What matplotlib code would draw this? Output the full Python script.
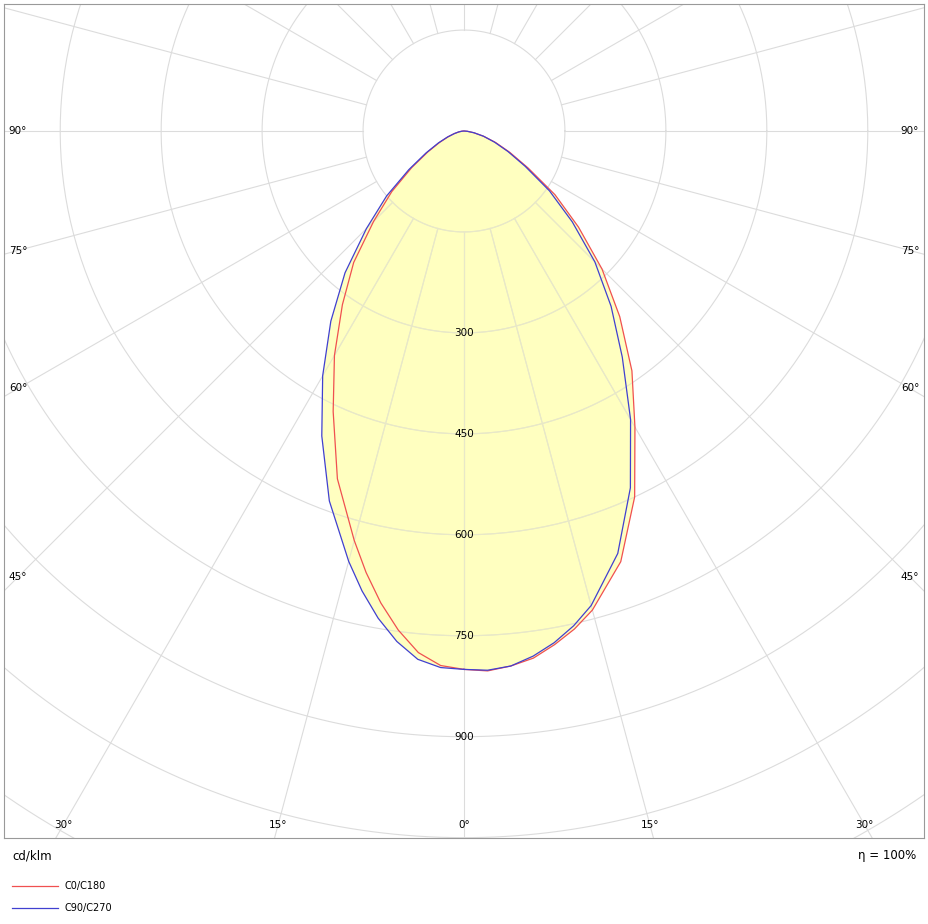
import numpy as np
import matplotlib
matplotlib.use("Agg")
import matplotlib.pyplot as plt

gamma = [0,2.5,5,7.5,10,12.5,15,20,25,30,35,40,45,50,55,60,65,70,75,80,85,90]
c0   = [800,803,798,790,775,758,737,681,600,508,435,360,290,222,165,110,75,50,30,15,5,0]
c180 = [800,795,778,748,712,672,630,550,460,385,315,255,190,140,95,62,40,25,15,8,3,0]
c90  = [800,802,798,787,772,753,730,668,585,495,410,340,275,210,155,105,72,48,30,15,5,0]
c270 = [800,798,788,765,735,700,662,585,500,420,345,275,205,150,100,65,42,26,15,8,3,0]
radial_ticks = [300,450,600,750,900]
angle_labels_bottom = [0,15,30]
angle_labels_side = [45,60,75,90]

s = 0.673  # px per cd
W, H = 929, 924
fig = plt.figure(figsize=(W/100, H/100), dpi=100)
ax = fig.add_axes([4/W, (H-838)/H, 920/W, 834/H])
ax.set_xlim(-460/s, 460/s); ax.set_ylim(-707/s, 127/s)
ax.set_xticks([]); ax.set_yticks([])
for sp in ax.spines.values():
    sp.set_color('#999999')

def xy(g, I, side):
    g = np.radians(np.array(g)); I = np.array(I)
    return side*I*np.sin(g), -I*np.cos(g)

def shape(right, left):
    xr, yr = xy(gamma, right, 1)
    xl, yl = xy(gamma, left, -1)
    return np.concatenate([xr, xl[::-1]]), np.concatenate([yr, yl[::-1]])

xa, ya = shape(c0, c180)
xb, yb = shape(c90, c270)
fill = '#ffffc0'
pa = ax.fill(xa, ya, color=fill, zorder=2, lw=0)[0]
pb = ax.fill(xb, yb, color=fill, zorder=2, lw=0)[0]

t = np.linspace(0, 2*np.pi, 400)
def grid(color, z, clip=None):
    arts = []
    for r in np.arange(150, 2400, 150):
        arts += ax.plot(r*np.cos(t), r*np.sin(t), color=color, lw=0.8, zorder=z)
    for a in range(0, 360, 15):
        th = np.radians(a)
        arts += ax.plot([150*np.sin(th), 3000*np.sin(th)], [-150*np.cos(th), -3000*np.cos(th)],
                        color=color, lw=0.8, zorder=z)
    if clip is not None:
        for l in arts:
            l.set_clip_path(clip)
grid('#dcdcdc', 1)
grid('#e8e8c8', 2.5, pa)
grid('#e8e8c8', 2.5, pb)

ax.plot(xa, ya, color='#f05050', lw=0.9, zorder=3)
ax.plot(xb, yb, color='#4040d0', lw=0.9, zorder=3)

fs = 7.5
for r in radial_ticks:
    ax.text(0, -r, str(r), ha='center', va='center', fontsize=fs, zorder=4)
yb_lab = -694/s
for a in angle_labels_bottom:
    for sgn in ([1] if a == 0 else [-1, 1]):
        ax.text(sgn*(-yb_lab)*np.tan(np.radians(a)), yb_lab, f"{a}°",
                ha='center', va='center', fontsize=fs, zorder=4)
xs = 446/s
for a in angle_labels_side:
    yv = 0 if a == 90 else -xs/np.tan(np.radians(a))
    for sgn in [-1, 1]:
        ax.text(sgn*xs, yv, f"{a}°", ha='center', va='center', fontsize=fs, zorder=4)

fig.text(12/W, 1-856/H, "cd/klm", fontsize=8.5, va='center', ha='left')
fig.text(916/W, 1-856/H, "η = 100%", fontsize=8.5, va='center', ha='right')
for yy, col, lab in [(886, '#f05050', 'C0/C180'), (908, '#4040d0', 'C90/C270')]:
    fig.add_artist(plt.Line2D([12/W, 58/W], [1-yy/H, 1-yy/H], color=col, lw=0.9))
    fig.text(65/W, 1-yy/H, lab, fontsize=7, va='center', ha='left')

fig.savefig("out.png", dpi=100)
